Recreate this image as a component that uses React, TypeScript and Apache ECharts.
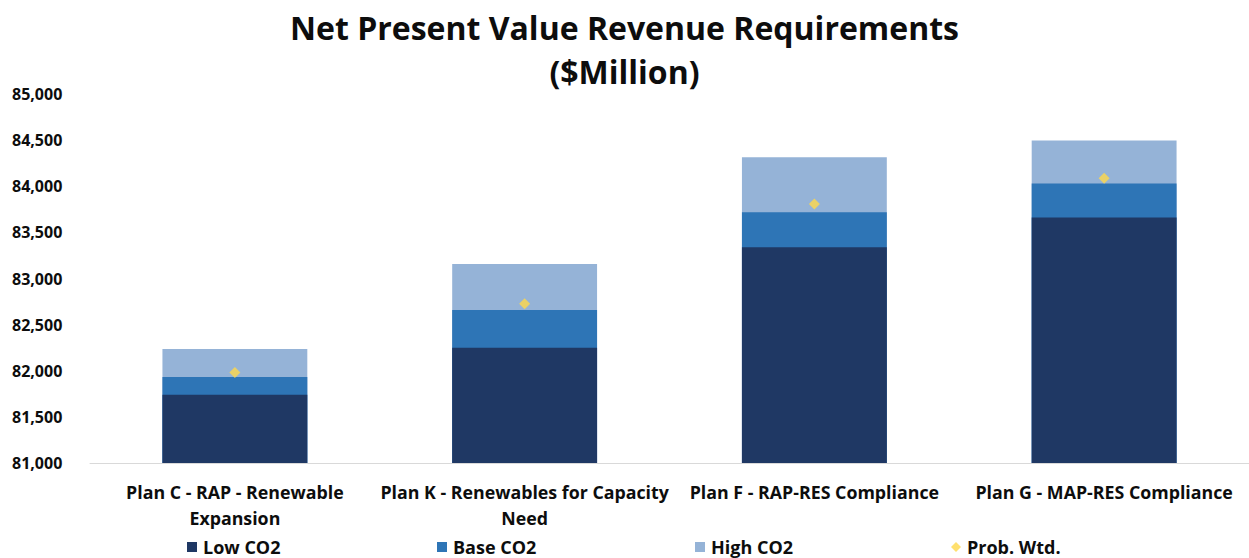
import React, { useEffect, useRef } from "react";
import * as echarts from "echarts";

const categories = [
  "Plan C - RAP - Renewable\nExpansion",
  "Plan K - Renewables for Capacity\nNeed",
  "Plan F - RAP-RES Compliance",
  "Plan G - MAP-RES Compliance",
];
const lowCO2 = [81740, 82250, 83340, 83662];
const baseCO2 = [81932, 82659, 83718, 84030];
const highCO2 = [82236, 83157, 84315, 84495];
const probWtd = [81980, 82725, 83808, 84086];
const yTicks = { min: 81000, max: 85000, interval: 500 };

const FONT = "Open Sans";
const TXT = "#0d0d0d";

export default function App() {
  const ref = useRef<HTMLDivElement>(null);
  useEffect(() => {
    if (!ref.current) return;
    const chart = echarts.init(ref.current, undefined, { renderer: "svg" });
    const legendItem = (name: string, left: number, icon: string, size: number) => ({
      data: [{ name, icon }],
      left,
      top: 536,
      itemWidth: size,
      itemHeight: size,
      itemGap: 0,
      padding: 0,
      textStyle: { fontFamily: FONT, fontWeight: "bold", fontSize: 18, color: TXT, lineHeight: 22, padding: [0, 0, 0, 1] },
    });
    chart.setOption({
      animation: false,
      title: {
        text: "Net Present Value Revenue Requirements\n($Million)",
        left: "center",
        top: 0,
        textStyle: { fontFamily: FONT, fontWeight: "bold", fontSize: 32, color: TXT, lineHeight: 44 },
      },
      grid: { left: 90, right: 0, top: 94, bottom: 95, containLabel: false },
      legend: [
        legendItem("Low CO2", 187, "rect", 10),
        legendItem("Base CO2", 437, "rect", 10),
        legendItem("High CO2", 695, "rect", 10),
        legendItem("Prob. Wtd.", 951, "diamond", 10),
      ],
      xAxis: {
        type: "category",
        data: categories,
        axisLine: { show: true, lineStyle: { color: "#d9d9d9", width: 1 } },
        axisTick: { show: false },
        axisLabel: {
          fontFamily: FONT,
          fontWeight: "bold",
          fontSize: 17.8,
          color: TXT,
          lineHeight: 26,
          margin: 16,
          interval: 0,
        },
      },
      yAxis: {
        type: "value",
        min: yTicks.min,
        max: yTicks.max,
        interval: yTicks.interval,
        splitLine: { show: false },
        axisLine: { show: false },
        axisTick: { show: false },
        axisLabel: {
          fontFamily: FONT,
          fontWeight: "bold",
          fontSize: 16,
          color: TXT,
          align: "left",
          margin: 78,
          formatter: (v: number) => v.toLocaleString("en-US"),
        },
      },
      series: [
        {
          name: "Low CO2",
          type: "bar",
          data: lowCO2,
          barWidth: "50%",
          barGap: "-100%",
          itemStyle: { color: "#1f3864" },
          z: 4,
        },
        {
          name: "Base CO2",
          type: "bar",
          data: baseCO2,
          barWidth: "50%",
          barGap: "-100%",
          itemStyle: { color: "#2e75b6" },
          z: 3,
        },
        {
          name: "High CO2",
          type: "bar",
          data: highCO2,
          barWidth: "50%",
          barGap: "-100%",
          itemStyle: { color: "#95b3d7" },
          z: 2,
        },
        {
          name: "Prob. Wtd.",
          type: "scatter",
          data: probWtd,
          symbol: "diamond",
          symbolSize: [11, 11],
          itemStyle: { color: "#ffd84a" },
          z: 10,
        },
      ],
    });
    return () => chart.dispose();
  }, []);
  return (
    <div
      ref={ref}
      style={{ position: "fixed", left: 0, top: 0, width: 1249, height: 558, background: "#fff" }}
    />
  );
}
